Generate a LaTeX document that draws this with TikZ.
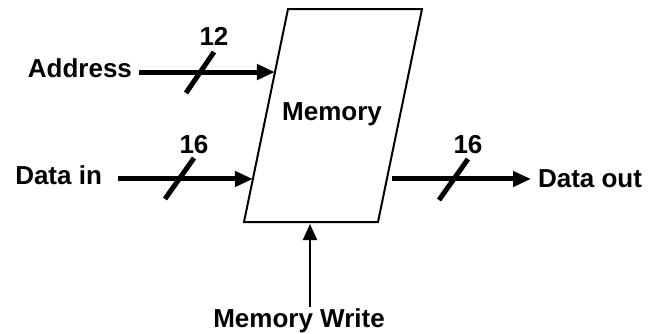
\documentclass[tikz,border=0pt]{standalone}
\usepackage{fontspec}
\setmainfont{Liberation Sans}
\usepackage{tikz}
\usetikzlibrary{arrows.meta, calc, positioning}

\begin{document}
\begin{tikzpicture}[x=0.5pt, y=-0.5pt, font=\fontsize{13}{15}\selectfont\bfseries,
  bus/.style={line width=2.5pt, -{Triangle[length=9pt,width=7.5pt]}},
  ctrl/.style={line width=1pt, -{Triangle[length=8pt,width=7pt]}},
  slash/.style={line width=2.5pt},
  lbl/.style={anchor=base}]
\useasboundingbox (0,0) rectangle (649,333);
% memory block
\draw[line width=1pt] (288,9) coordinate (tl) -- (422,9) coordinate (tr) -- (378,222) coordinate (br) -- (244,222) coordinate (bl) -- cycle;
\node[lbl] (mem) at (332,120) {Memory};
\coordinate (ain) at ($(bl)!0.704!(tl)$);
\coordinate (din) at ($(bl)!0.202!(tl)$);
\coordinate (dout) at ($(br)!0.202!(tr) + (5,0)$);
\coordinate (wrin) at (310,224);

% inputs
\node[lbl, anchor=base east] (addr) at (139,77) {Address};
\draw[bus] (addr.east |- ain) -- (ain);
\draw[slash] (200,72) ++(-14,21) -- ++(28,-41);
\node[lbl] (wa) at (214,45) {12};

\node[lbl, anchor=base east] (datain) at (109,184) {Data in};
\draw[bus] ([xshift=4.5pt]datain.east |- din) -- (din);
\draw[slash] (180,179) ++(-15,20) -- ++(29,-41);
\node[lbl] (wdi) at (194,153) {16};

% output
\node[lbl, anchor=base west] (dataout) at (531,187) {Data out};
\draw[bus] (dout) -- (dout -| dataout.west);
\draw[slash] (453,179) ++(-14,21) -- ++(29,-41);
\node[lbl] (wdo) at (468,153) {16};

% write enable
\node[lbl, inner sep=0.5pt] (wr) at (299,327) {Memory Write};
\draw[ctrl] (wrin |- wr.north) -- (wrin);
\end{tikzpicture}
\end{document}
